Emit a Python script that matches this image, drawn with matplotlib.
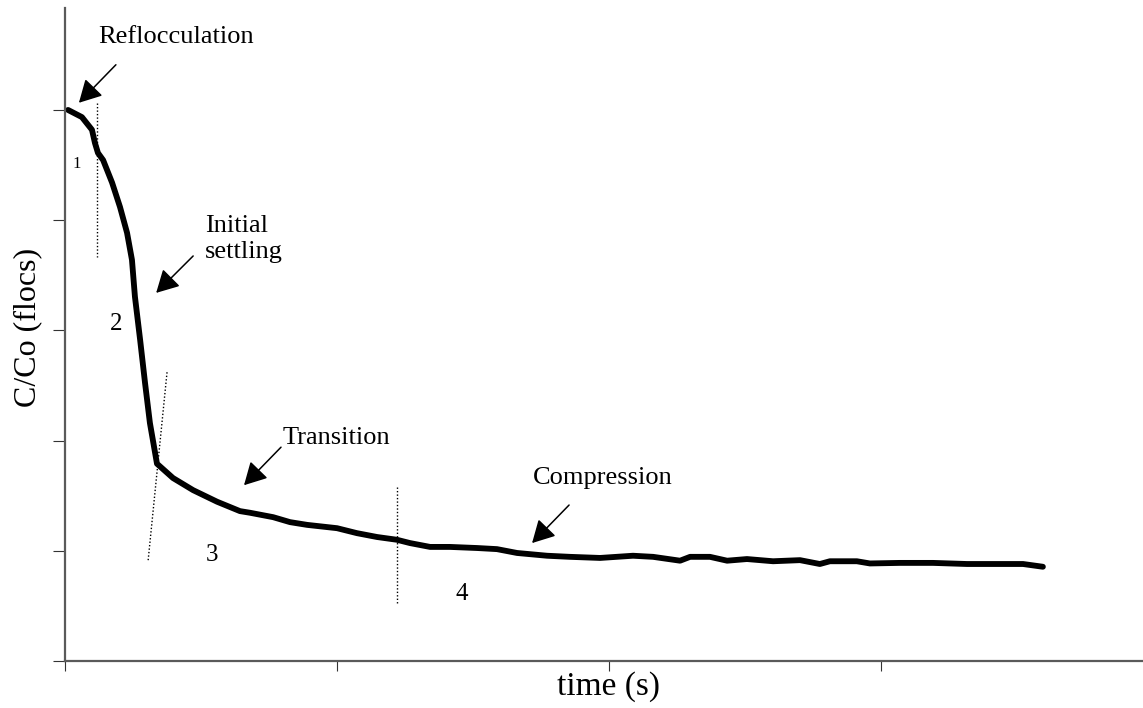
import matplotlib.pyplot as plt

plt.rcParams['font.family'] = ['Liberation Serif', 'DejaVu Serif']

# settling curve, time in s and normalised concentration C/Co
time_s = [11, 62, 99, 110, 121, 140, 173, 202, 228, 246, 257, 276, 294, 312,
          338, 397, 471, 559, 643, 680, 765, 827, 890, 1000, 1073, 1147,
          1220, 1268, 1342, 1415, 1515, 1588, 1662, 1772, 1856, 1967, 2088,
          2162, 2261, 2298, 2371, 2434, 2507, 2603, 2702, 2775, 2812, 2911,
          2959, 3069, 3191, 3316, 3437, 3522, 3595]
conc = [1.000, 0.987, 0.964, 0.940, 0.922, 0.909, 0.868, 0.824, 0.777, 0.728,
        0.661, 0.583, 0.505, 0.432, 0.358, 0.332, 0.310, 0.289, 0.272, 0.269,
        0.261, 0.252, 0.247, 0.241, 0.232, 0.225, 0.220, 0.214, 0.207, 0.207,
        0.205, 0.203, 0.196, 0.191, 0.189, 0.187, 0.191, 0.189, 0.182, 0.189,
        0.189, 0.182, 0.185, 0.181, 0.183, 0.176, 0.181, 0.181, 0.177, 0.178,
        0.178, 0.176, 0.176, 0.176, 0.171]

# dotted boundaries between the settling stages: (t0, c0, t1, c1)
boundaries = [(118, 1.013, 118, 0.733),
              (375, 0.524, 305, 0.180),
              (1220, 0.316, 1220, 0.105)]

# stage names: text, text position, arrow tail, arrow tip
stage_names = ['Reflocculation', 'Initial', 'Transition', 'Compression']
name_pos = [(121, 1.122), (515, 0.779), (800, 0.394), (1720, 0.321)]
arrow_tail = [(187, 1.082), (471, 0.735), (794, 0.388), (1853, 0.283)]
arrow_tip = [(51, 1.013), (335, 0.668), (658, 0.319), (1717, 0.214)]

stage_numbers = ['1', '2', '3', '4']
number_pos = [(44, 0.895), (188, 0.601), (540, 0.181), (1459, 0.111)]
number_size = [12, 18, 18, 18]

fig = plt.figure(figsize=(11.43, 7.08), dpi=100)
ax = fig.add_axes([0.0569, 0.0664, 0.9431, 0.9223])

ax.plot(time_s, conc, color='black', lw=4.2,
        solid_capstyle='round', solid_joinstyle='round')

for t0, c0, t1, c1 in boundaries:
    ax.plot([t0, t1], [c0, c1], color='black', lw=1.0,
            linestyle=(0, (1, 1.5)))

for name, pos, tail, tip in zip(stage_names, name_pos, arrow_tail, arrow_tip):
    ax.text(pos[0], pos[1], name, fontsize=19, ha='left', va='baseline')
    ax.annotate('', xy=tip, xytext=tail,
                arrowprops=dict(arrowstyle='-|>,head_length=0.55,head_width=0.3',
                                mutation_scale=25, lw=1.1, color='black',
                                shrinkA=0, shrinkB=0))
ax.text(515, 0.731, 'settling', fontsize=19, ha='left', va='baseline')

for num, pos, size in zip(stage_numbers, number_pos, number_size):
    ax.text(pos[0], pos[1], num, fontsize=size, ha='center', va='baseline')

ax.set_xlim(0, 3963)
ax.set_ylim(0, 1.185)
ax.set_xticks([0, 1000, 2000, 3000])
ax.set_yticks([0, 0.2, 0.4, 0.6, 0.8, 1.0])
ax.set_xticklabels([])
ax.set_yticklabels([])
ax.tick_params(axis='y', direction='out', length=8.6, width=0.8, color='#333333')
ax.tick_params(axis='x', direction='out', length=7.2, width=0.8, color='#333333')

for side in ['top', 'right']:
    ax.spines[side].set_visible(False)
for side in ['left', 'bottom']:
    ax.spines[side].set_color('#5a5a5a')
    ax.spines[side].set_linewidth(1.6)

# axis titles placed directly in figure space
fig.text(0.0245, 0.538, 'C/Co (flocs)', fontsize=23, rotation=90,
         ha='center', va='center')
fig.text(0.532, 0.03, 'time (s)', fontsize=24, ha='center', va='center')

fig.savefig('out.png', dpi=100)
